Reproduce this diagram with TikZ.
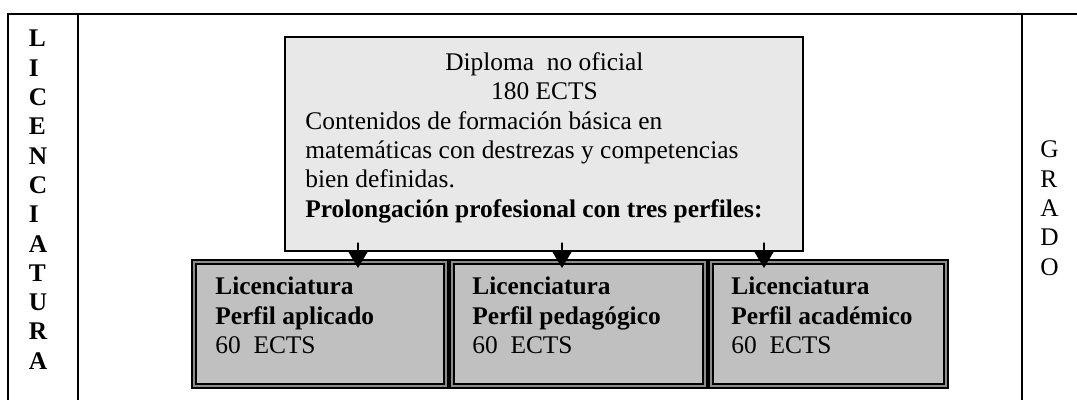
\documentclass[tikz,border=0pt]{standalone}
\usepackage{fontspec}
\setmainfont{Liberation Serif}
\usepackage{xcolor}
\usetikzlibrary{arrows.meta,calc,positioning}
\definecolor{grisclaro}{HTML}{E8E8E8}
\definecolor{grismedio}{HTML}{C0C0C0}
\definecolor{grisborde}{HTML}{8C8C8C}

\begin{document}
\begin{tikzpicture}[x=0.5pt,y=-0.5pt,line cap=round,
  marco/.style={line width=1.1pt,line cap=rect},
  diplomabox/.style={draw,line width=1pt,fill=grisclaro,minimum width=259pt,minimum height=107pt,inner sep=0},
  perfil/.style={draw=black,line width=1.15pt,double=grisborde,double distance=0.9pt,fill=grismedio,minimum height=61.8pt,inner sep=0},
  texto/.style={anchor=base west,inner sep=0,font=\fontsize{12.7}{14.65}\selectfont},
  flecha/.style={line width=0.6pt,-{Triangle[length=8.5pt,width=10pt]}}]
\useasboundingbox (0,0) rectangle (1077,400);
% tabla exterior
\draw[marco] (8,400) -- (8,14) -- (1077,14);
\draw[marco] (78,14) -- (78,400);
\draw[marco] (1022,14) -- (1022,400);
\node[texto] (lic) at (28.5,47) {\begin{minipage}[t]{20pt}\bfseries L\\I\\C\\E\\N\\C\\I\\A\\T\\U\\R\\A\end{minipage}};
\node[texto] (grado) at (1040,158) {\begin{minipage}[t]{20pt}G\\R\\A\\D\\O\end{minipage}};
% diploma
\node[diplomabox] (diploma) at (544,144) {};
\node[texto] (diplomatxt) at (305,70.7) {\begin{minipage}[t]{260pt}
\makebox[239pt]{Diploma\ \ no oficial}\\
\makebox[239pt]{180 ECTS}\\
Contenidos de formación básica en\\
matemáticas con destrezas y competencias\\
bien definidas.\\
\textbf{Prolongación profesional con tres perfiles:}\end{minipage}};
% perfiles
\node[perfil,minimum width=125.8pt] (aplicado) at (320,324) {};
\node[perfil,minimum width=126.3pt] (pedagogico) at (578.5,324) {};
\node[perfil,minimum width=117.3pt] (academico) at (828.5,324) {};
\node[texto] (aplicadotxt) at (215,295) {\begin{minipage}[t]{125pt}\textbf{Licenciatura}\\\textbf{Perfil aplicado}\\60\ \ ECTS\end{minipage}};
\node[texto] (pedagogicotxt) at (472,295) {\begin{minipage}[t]{125pt}\textbf{Licenciatura}\\\textbf{Perfil pedagógico}\\60\ \ ECTS\end{minipage}};
\node[texto] (academicotxt) at (731,295) {\begin{minipage}[t]{125pt}\textbf{Licenciatura}\\\textbf{Perfil académico}\\60\ \ ECTS\end{minipage}};
% flechas
\coordinate (fA) at (358,268);
\coordinate (fB) at (562,268);
\coordinate (fC) at (764,268);
\foreach \f in {fA,fB,fC}
  \draw[flecha] ($(diploma.south -| \f)+(0,-9)$) -- (\f);
\end{tikzpicture}
\end{document}
